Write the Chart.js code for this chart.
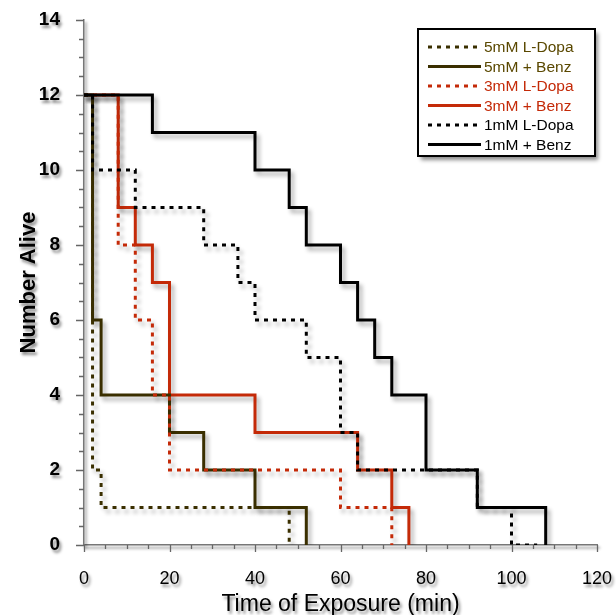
<!DOCTYPE html>
<html>
<head>
<meta charset="utf-8">
<script src="https://cdn.jsdelivr.net/npm/chart.js@4/dist/chart.umd.min.js"></script>
<style>
html, body { margin: 0; padding: 0; background: #fff; }
#rahmen { width: 616px; height: 615px; }
</style>
</head>
<body>
<div id="rahmen"><canvas id="ueberleben"></canvas></div>
<script>
// Zeiten (min) und Anzahl lebender Tiere, jeweils ab dem Zeitpunkt
const zeit5Dopa = [0, 2, 4, 48];
const alive5Dopa = [12, 2, 1, 0];
const zeit5Benz = [0, 2, 4, 20, 28, 40, 52];
const alive5Benz = [12, 6, 4, 3, 2, 1, 0];
const zeit3Dopa = [0, 8, 12, 16, 20, 60, 72];
const alive3Dopa = [12, 8, 6, 4, 2, 1, 0];
const zeit3Benz = [0, 8, 12, 16, 20, 40, 64, 72, 76];
const alive3Benz = [12, 9, 8, 7, 4, 3, 2, 1, 0];
const zeit1Dopa = [0, 2, 12, 28, 36, 40, 52, 60, 64, 92, 100, 106];
const alive1Dopa = [12, 10, 9, 8, 7, 6, 5, 3, 2, 1, 0, 0];
const zeit1Benz = [0, 16, 40, 48, 52, 60, 64, 68, 72, 80, 92, 108];
const alive1Benz = [12, 11, 10, 9, 8, 7, 6, 5, 4, 2, 1, 0];

const legendenText = ["5mM L-Dopa", "5mM + Benz", "3mM L-Dopa", "3mM + Benz", "1mM L-Dopa", "1mM + Benz"];
const xTicks = [0, 20, 40, 60, 80, 100, 120];
const yTicks = [0, 2, 4, 6, 8, 10, 12, 14];

const oliv = "#3a2f00";
const olivText = "#5a4800";
const rot = "#c42a08";
const schwarz = "#000000";
const punkte = [4, 5];

function punkteAus(zeiten, werte) {
    return zeiten.map((t, i) => ({ x: t, y: werte[i] }));
}

function kurve(label, zeiten, werte, farbe, gepunktet, reihenfolge, textFarbe) {
    return {
        label: label,
        data: punkteAus(zeiten, werte),
        borderColor: farbe,
        borderWidth: 3,
        borderDash: gepunktet ? punkte : [],
        stepped: "before",
        pointRadius: 0,
        fill: false,
        order: reihenfolge,
        textFarbe: textFarbe,
    };
}

const schatten = {
    id: "schatten",
    beforeDraw(chart) {
        const ctx = chart.ctx;
        ctx.shadowColor = "rgba(0,0,0,0.45)";
        ctx.shadowBlur = 3;
        ctx.shadowOffsetX = 2;
        ctx.shadowOffsetY = 3;
    },
    beforeDatasetsDraw(chart) {
        const ctx = chart.ctx;
        ctx.shadowColor = "rgba(0,0,0,0.32)";
        ctx.shadowBlur = 4;
        ctx.shadowOffsetX = 3;
        ctx.shadowOffsetY = 4;
    },
    afterDatasetsDraw(chart) {
        const ctx = chart.ctx;
        ctx.shadowColor = "rgba(0,0,0,0)";
        ctx.shadowBlur = 0;
        ctx.shadowOffsetX = 0;
        ctx.shadowOffsetY = 0;
    },
};

// Teilstriche selbst zeichnen (lange und kurze)
const striche = {
    id: "striche",
    afterDraw(chart) {
        const ctx = chart.ctx;
        const xs = chart.scales.x;
        const ys = chart.scales.y;
        const unten = chart.chartArea.bottom;
        const links = chart.chartArea.left;
        ctx.save();
        ctx.shadowColor = "rgba(0,0,0,0)";
        ctx.strokeStyle = "#666";
        ctx.lineWidth = 1.3;
        ctx.beginPath();
        for (let v = 0; v <= 120; v += 5) {
            const px = Math.round(xs.getPixelForValue(v)) + 0.5;
            const lang = v % 20 === 0 ? 7 : 4;
            ctx.moveTo(px, unten);
            ctx.lineTo(px, unten + lang);
        }
        for (let v = 0; v <= 14; v += 0.5) {
            const py = Math.round(ys.getPixelForValue(v)) + 0.5;
            const lang = v % 2 === 0 ? 8 : 5;
            ctx.moveTo(links, py);
            ctx.lineTo(links - lang, py);
        }
        ctx.stroke();
        ctx.restore();
    },
};

// Legende im Diagramm
const legende = {
    id: "legende",
    afterDraw(chart) {
        const ctx = chart.ctx;
        const x0 = 418, y0 = 29, w = 177, h = 127;
        ctx.save();
        ctx.shadowColor = "rgba(0,0,0,0.45)";
        ctx.shadowBlur = 4;
        ctx.shadowOffsetX = 3;
        ctx.shadowOffsetY = 4;
        ctx.fillStyle = "#fff";
        ctx.fillRect(x0, y0, w, h);
        ctx.shadowColor = "rgba(0,0,0,0)";
        ctx.strokeStyle = "#000";
        ctx.lineWidth = 2;
        ctx.strokeRect(x0, y0, w, h);
        ctx.font = "15.5px 'Liberation Sans', Arial, sans-serif";
        ctx.textBaseline = "middle";
        const reihen = chart.data.datasets.slice().sort((a, b) => legendenText.indexOf(a.label) - legendenText.indexOf(b.label));
        reihen.forEach((ds, i) => {
            const y = y0 + 18 + i * 19.5;
            ctx.strokeStyle = ds.borderColor;
            ctx.lineWidth = 3;
            ctx.setLineDash(ds.borderDash);
            ctx.beginPath();
            ctx.moveTo(x0 + 10, y);
            ctx.lineTo(x0 + 63, y);
            ctx.stroke();
            ctx.setLineDash([]);
            ctx.fillStyle = ds.textFarbe;
            ctx.fillText(ds.label, x0 + 66, y + 1);
        });
        ctx.restore();
    },
};

new Chart(document.getElementById("ueberleben"), {
    type: "line",
    data: {
        datasets: [
            kurve(legendenText[1], zeit5Benz, alive5Benz, oliv, false, 5, olivText),
            kurve(legendenText[3], zeit3Benz, alive3Benz, rot, false, 6, rot),
            kurve(legendenText[2], zeit3Dopa, alive3Dopa, rot, true, 4, rot),
            kurve(legendenText[0], zeit5Dopa, alive5Dopa, oliv, true, 3, olivText),
            kurve(legendenText[4], zeit1Dopa, alive1Dopa, schwarz, true, 2, schwarz),
            kurve(legendenText[5], zeit1Benz, alive1Benz, schwarz, false, 1, schwarz),
        ],
    },
    options: {
        responsive: true,
        maintainAspectRatio: false,
        animation: false,
        layout: { padding: { top: 20, right: 19, left: 0, bottom: 0 } },
        plugins: {
            legend: { display: false },
            tooltip: { enabled: false },
        },
        scales: {
            x: {
                type: "linear",
                min: 0,
                max: 120,
                afterFit(scale) {
                    scale.height = 70;
                    scale.paddingLeft = 0;
                    scale.paddingRight = 0;
                },
                afterBuildTicks(scale) { scale.ticks = xTicks.map(v => ({ value: v })); },
                grid: { display: false, drawTicks: false },
                border: { display: true, color: "#777", width: 1.5 },
                ticks: {
                    padding: 23,
                    color: "#000",
                    font: { family: "'Liberation Sans', Arial, sans-serif", size: 18 },
                    maxRotation: 0,
                },
                title: {
                    display: true,
                    text: "Time of Exposure (min)",
                    color: "#000",
                    padding: { top: 0, bottom: -3 },
                    font: { family: "'Liberation Sans', Arial, sans-serif", size: 23 },
                },
            },
            y: {
                min: 0,
                max: 14,
                afterFit(scale) {
                    scale.width = 84;
                    scale.paddingTop = 0;
                    scale.paddingBottom = 0;
                },
                afterBuildTicks(scale) { scale.ticks = yTicks.map(v => ({ value: v })); },
                grid: { display: false, drawTicks: false },
                border: { display: true, color: "#777", width: 1.5 },
                ticks: {
                    padding: 24,
                    color: "#000",
                    font: { family: "'Liberation Sans', Arial, sans-serif", size: 19, weight: "bold" },
                },
                title: {
                    display: true,
                    text: "Number Alive",
                    color: "#000",
                    padding: { top: 16, bottom: 0 },
                    font: { family: "'Liberation Sans', Arial, sans-serif", size: 22, weight: "bold" },
                },
            },
        },
    },
    plugins: [schatten, striche, legende],
});
</script>
</body>
</html>
